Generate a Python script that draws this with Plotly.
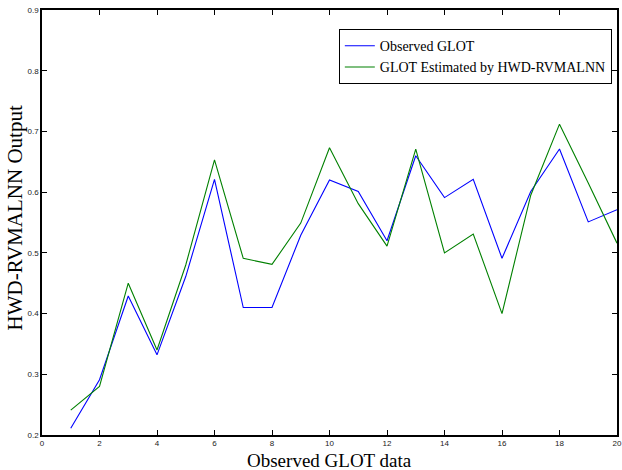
import plotly.graph_objects as go

x_vals = list(range(1, 21))
observed = [0.211, 0.291, 0.429, 0.332, 0.461, 0.621, 0.410, 0.410, 0.529, 0.620,
            0.601, 0.520, 0.660, 0.591, 0.621, 0.491, 0.601, 0.671, 0.551, 0.571]
estimated = [0.241, 0.280, 0.450, 0.340, 0.480, 0.653, 0.491, 0.481, 0.549, 0.673,
             0.581, 0.511, 0.671, 0.500, 0.531, 0.400, 0.595, 0.712, 0.615, 0.516]
x_ticks = list(range(0, 21, 2))
y_ticks = [0.2, 0.3, 0.4, 0.5, 0.6, 0.7, 0.8, 0.9]

fig = go.Figure()
fig.add_trace(go.Scatter(x=x_vals, y=observed, mode="lines", name="Observed GLOT",
                         line=dict(color="#0000ff", width=1.1)))
fig.add_trace(go.Scatter(x=x_vals, y=estimated, mode="lines", name="GLOT Estimated by HWD-RVMALNN",
                         line=dict(color="#008000", width=1.1)))

axis_common = dict(showgrid=False, zeroline=False, showline=True, linecolor="black", linewidth=1.5,
                   ticks="inside", ticklen=5, tickwidth=1, tickcolor="black", mirror="ticks",
                   ticklabeloverflow="allow",
                   tickfont=dict(family="Liberation Sans, Arial", size=8, color="#222222"))

fig.update_layout(
    width=622, height=470,
    paper_bgcolor="white", plot_bgcolor="white",
    margin=dict(l=42, r=0, t=10, b=35),
    showlegend=True,
    legend=dict(x=0.991, y=0.955, xanchor="right", yanchor="top",
                bordercolor="black", borderwidth=1, bgcolor="white",
                font=dict(family="Liberation Serif, Times New Roman", size=14, color="black"),
                itemwidth=30, tracegroupgap=0),
    xaxis=dict(range=[0, 20], tickvals=x_ticks, ticktext=[str(v) for v in x_ticks], **axis_common),
    yaxis=dict(range=[0.2, 0.9], tickvals=y_ticks, ticktext=[str(v) for v in y_ticks], **axis_common),
    annotations=[
        dict(text="Observed GLOT data", xref="paper", yref="paper", x=0.5, y=0, yshift=-25,
             xanchor="center", yanchor="middle", showarrow=False,
             font=dict(family="Liberation Serif, Times New Roman", size=19, color="black")),
        dict(text="HWD-RVMALNN Output", xref="paper", yref="paper", x=0, y=0.5, xshift=-28, yshift=4,
             xanchor="center", yanchor="middle", textangle=-90, showarrow=False,
             font=dict(family="Liberation Serif, Times New Roman", size=21, color="black")),
    ],
)

fig.write_html("out.html", config={"displayModeBar": False},
               post_script="document.body.style.margin='0';")
